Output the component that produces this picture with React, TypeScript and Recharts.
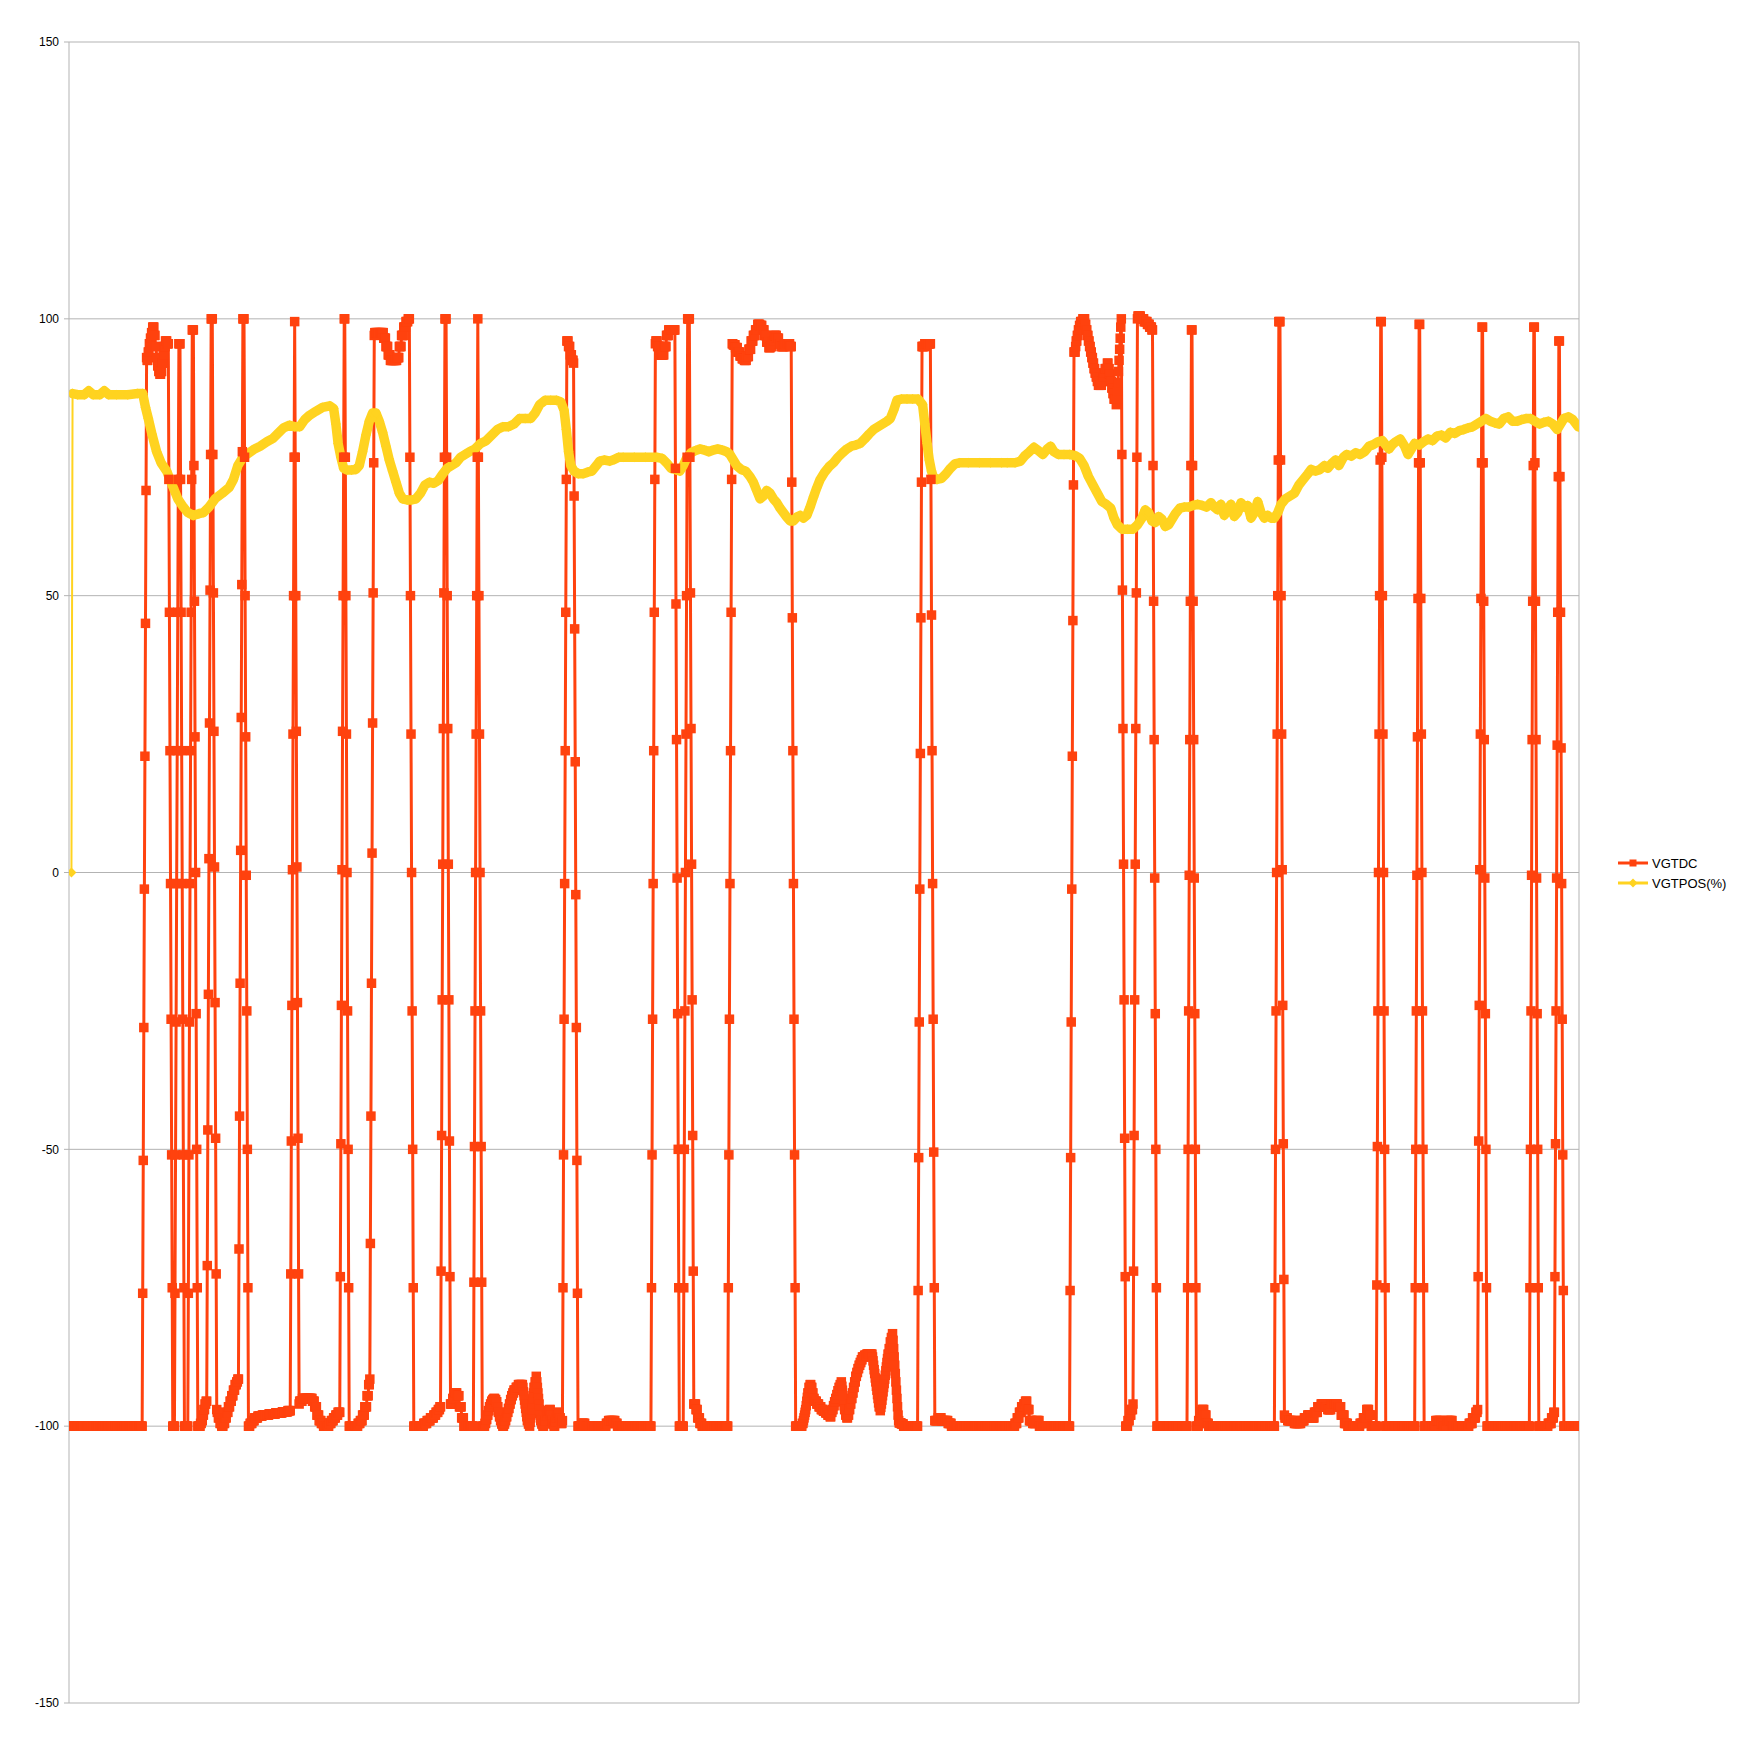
import React from "react";
import { LineChart, Line, XAxis, YAxis, CartesianGrid, ReferenceLine } from "recharts";

const RED = "#ff420e";
const YELLOW = "#ffd320";
const GRID = "#b3b3b3";
const FONT = "'Liberation Sans', Arial, sans-serif";

const SERIES_NAMES = ["VGTDC", "VGTPOS(%)"];
const Y_TICKS = [-150, -100, -50, 0, 50, 100, 150];

// Sample position is given as horizontal picture position; 2 samples per unit.
type Entry = [number, number | number[]];

// VGTDC: [position, value held from there] or [position, consecutive sample values]
const VGTDC_ENTRIES: Entry[] = [
  [64.5, -100],
  [128.5, [-76, -52, -28, -3, 21, 45, 69, 93]],
  [132.5, 92.5], [133.5, 94], [134.5, 95.5], [135.5, 96.5], [136.5, 97.5], [137.5, 98.5], [139, 97], [140, 95], [141, 93], [142, 91.5], [143, 90.5], [144, 90], [145, 90.5], [146, 92], [147, 93.5], [148, 95], [149, 96], [150.5, 95.5],
  [152, [71, 47, 22, -2, -26.5, -51, -75, -100]],
  [157.5, [-76, -51, -27, -2, 22, 47, 71, 95.5]],
  [162.5, [71, 47, 22, -2, -26.5, -51, -75, -100]],
  [169.5, [-76, -51, -27, -2, 22, 47, 71, 98]],
  [174.5, [73.5, 49, 24.5, 0, -25.5, -50, -75, -100]],
  [178.5, -100], [180.5, -99.5], [181.5, -99], [182.5, -98], [183.5, -97], [184.5, -96], [185.5, -95.5],
  [186.5, [-71, -46.5, -22, 2.5, 27, 51, 75.5, 100]],
  [190.5, 100],
  [191.5, [75.5, 50.5, 25.5, 1, -23.5, -48, -72.5, -97]],
  [195.5, -97.5], [196.5, -98.5], [198, -99.5], [199.5, -100], [201, -99.5], [202.5, -98.5], [204, -97.5], [205.5, -96.5], [207, -95.5], [208.5, -94.5], [210, -93.5], [211.5, -92.5], [213, -92], [214, -91.5],
  [215, [-68, -44, -20, 4, 28, 52, 76, 100]],
  [219, 100],
  [220, [75, 50, 24.5, -0.5, -25, -50, -75, -100]],
  [223.5, -100], [225, -99.5], [227, -99], [229, -98.5], [232, -98.2], [236, -98], [242, -97.8], [248, -97.6], [254, -97.4], [259, -97.2],
  [261.5, [-72.5, -48.5, -24, 0.5, 25, 50, 75, 99.5]],
  [265.5, [75, 50, 25.5, 1, -23.5, -48, -72.5, -96]],
  [269.5, -95.5], [272, -95], [275, -95], [278, -95], [281, -95.5], [283, -96.5], [285, -98], [287, -99], [289, -99.5], [291, -100], [294, -100], [296, -99.5], [298, -99], [300, -98.5], [302, -98], [304, -97.5],
  [306, [-73, -49, -24, 0.5, 25.5, 50, 75, 100]],
  [310, 100],
  [310.5, [75, 50, 25, 0, -25, -50, -75, -100]],
  [314.5, -100], [320, -100], [322, -99.5], [324, -99], [326, -98], [328, -96.5], [330, -94.5], [331.5, -92.5], [332.5, -91.5],
  [333, [-67, -44, -20, 3.5, 27, 50.5, 74, 97]],
  [337, 97.5], [340, 97.5], [343, 97.5], [345, 96.5], [347, 95], [349, 93.5], [351, 92.5], [354, 92.5], [357, 93], [359, 95], [361, 97], [363, 98.5], [365, 99.5], [367, 100],
  [368.5, [75, 50, 25, 0, -25, -50, -75, -100]],
  [372.5, -100], [378, -100], [381, -99.5], [384, -99], [387, -98.5], [390, -98], [392, -97.5], [394, -97], [395.5, -96.5],
  [396.5, [-72, -47.5, -23, 1.5, 26, 50.5, 75, 100]],
  [400.5, 100],
  [401.5, [75, 50, 26, 1.5, -23, -48.5, -73, -96]],
  [405.5, -96], [407, -95], [409, -94], [411, -94.5], [413, -96.5], [415, -98.5], [417, -100], [424, -100],
  [426, [-74, -49.5, -25, 0, 25, 50, 75, 100]],
  [430, [75, 50, 25, 0, -25, -49.5, -74, -100]],
  [434, -100], [436, -99.5], [437, -98.8], [438, -98], [439, -97.2], [440, -96.5], [441, -96], [442, -95.5], [443, -95.2], [444, -95], [445, -95.2], [446, -95.6], [447, -96.5], [448, -97.5], [449, -98.3], [450, -99], [451, -99.6], [452, -100], [453, -99.6], [454, -99], [455, -98.3], [456, -97.5], [457, -96.8], [458, -96], [459, -95.2], [460, -94.5], [461, -94], [462, -93.5], [464, -93], [466, -92.5], [468, -92.5], [470, -93], [470.5, -93.8], [471, -94.5], [471.5, -95.3], [472, -96], [472.5, -96.8], [473, -97.5], [473.5, -98.3], [474, -99], [475, -99.6], [476, -100], [476.5, -99.3], [477, -98.5], [477.5, -97.7], [478, -97], [478.5, -96], [479, -95], [479.5, -94], [480, -93], [481, -92], [482, -91], [482.5, -92], [483, -93], [483.5, -94], [484, -95], [484.5, -96], [485, -97], [485.5, -98], [486, -99], [487, -99.6], [488, -100], [489, -99.5], [490, -99], [491, -98.2], [492, -97.5], [493, -97.2], [494, -97], [495, -98], [496, -99], [497, -99.6], [498, -100], [499, -99.2], [500, -98.5], [501, -98], [502, -97.5], [503, -98.5], [504, -99.5], [505.5, -99],
  [506, [-75, -51, -26.5, -2, 22, 47, 71, 96]],
  [510, 96], [511, 95], [512.5, 93.5], [514, 92.5], [515.5, 92],
  [516, [68, 44, 20, -4, -28, -52, -76, -100]],
  [520, -100], [523, -99.5], [526, -100], [545, -99.5], [547, -99], [551, -99], [553, -99.5], [555, -100],
  [585.5, [-75, -51, -26.5, -2, 22, 47, 71, 95.5]],
  [589.5, 96], [591, 95], [593, 93.5], [595, 93.5], [597, 95], [599, 97], [601, 98], [606.5, 98],
  [607, [73, 48.5, 24, -1, -25.5, -50, -75, -100]],
  [611, -100],
  [614.5, [-75, -50, -25, 0, 25, 50, 75, 100]],
  [618.5, 100],
  [620, [75, 50.5, 26, 1.5, -23, -47.5, -72, -96]],
  [624, -96], [625.5, -97], [627, -98.5], [629, -99.5], [631, -100],
  [654.5, [-75, -51, -26.5, -2, 22, 47, 71, 95.5]],
  [659, 95.3], [661, 94.8], [663, 94], [665, 93.3], [667, 92.8], [669, 92.5], [671, 93.2], [673, 94.5], [675, 96], [677, 97], [679, 98], [681, 99], [683, 98.8], [685, 98], [687, 97], [689, 95.8], [691, 94.8], [692.5, 95], [694, 96], [696, 97], [698, 96.5], [700, 95.5], [702, 95], [705, 95.5], [708, 95.5], [710, 95],
  [711.5, [70.5, 46, 22, -2, -26.5, -51, -75, -100]],
  [715.5, -100], [721, -99.5], [722, -99], [722.5, -98.5], [723, -98], [723.5, -97.5], [724, -97], [724.5, -96.3], [725, -95.5], [725.5, -94.8], [726, -94], [727, -93], [728, -92.5], [729, -93], [730, -94], [731, -95], [732, -95.5], [734, -96], [736, -96.5], [738, -97], [740, -97.3], [742, -97.6], [744, -98], [746, -98.3], [747, -97.5], [748, -97], [749, -96.3], [750, -95.6], [751, -95], [752, -94.3], [753, -93.6], [754, -93], [755, -92.5], [756, -92], [756.5, -92.8], [757, -93.5], [757.5, -94.5], [758, -95.5], [758.5, -96.3], [759, -97], [760, -98], [761, -98.5], [762, -98], [763, -97], [764, -96], [765, -95], [766, -94], [767, -93], [768, -92], [769, -91], [770, -90.3], [771, -89.6], [772, -89], [773, -88.5], [774, -88], [775, -87.5], [777, -87.2], [779, -87], [783, -87], [784, -87.5], [784.5, -88.2], [785, -89], [785.5, -89.8], [786, -90.5], [786.5, -91.3], [787, -92], [787.5, -92.8], [788, -93.5], [788.5, -94.3], [789, -95], [789.5, -95.8], [790, -96.5], [791, -97.2], [791.5, -96.6], [792, -96], [792.5, -95.3], [793, -94.5], [793.5, -93.8], [794, -93], [794.5, -92.3], [795, -91.5], [795.5, -90.8], [796, -90], [796.5, -89.3], [797, -88.5], [797.5, -87.8], [798, -87], [799, -86], [800, -84.8], [801, -84], [802, -83.3],
  [802.5, [-84.5, -86, -87.5, -89, -90.5, -92, -93.5, -95, -96.5, -98, -99]],
  [808, -99.4], [810, -99.6], [812, -100],
  [825, [-75.5, -51.5, -27, -3, 21.5, 46, 70.5, 95]],
  [829, 95], [831, 95.5], [835, 95.5],
  [836.5, [71, 46.5, 22, -2, -26.5, -50.5, -75, -99]],
  [840.5, -99], [843, -98.5], [846, -99], [849, -99], [852, -99.5], [855, -100], [910, -100], [912, -99.5], [914, -98.5], [916, -97.5], [918, -96.5], [920, -96], [921.5, -95.5], [923, -97], [925, -99], [928, -99.5], [931, -99], [934, -100],
  [961.5, [-75.5, -51.5, -27, -3, 21, 45.5, 70, 94]],
  [965.5, 94], [966.5, 95], [967, 96], [968, 97], [969, 98], [970, 98.8], [971, 99.5], [973, 100], [975, 99], [976, 98], [977, 97], [978, 96], [979, 95], [980, 94], [981, 93], [982, 92], [983, 91], [984, 90.2], [985, 89.5], [986, 88.7], [987, 88], [989, 88], [990, 88.7], [991, 89.5], [992, 90.2], [993, 91], [995, 92], [996, 91], [997, 90], [998, 88.7], [999, 87.5], [1000, 86.5], [1001, 85.5], [1003, 84.5],
  [1003.5, [85.5, 87, 88.5, 90.5, 92.5, 94.5, 96.5, 98.5, 100]],
  [1008, [75.5, 51, 26, 1.5, -23, -48, -73, -100]],
  [1012, -100], [1013.5, -99], [1015, -98], [1016.5, -97], [1018, -96],
  [1018.5, [-72, -47.5, -23, 1.5, 26, 50.5, 75, 100]],
  [1022.5, 100.5], [1025, 100], [1028, 99.5], [1031, 99], [1033, 98.5], [1035, 98],
  [1036, [73.5, 49, 24, -1, -25.5, -50, -75, -100]],
  [1040, -100],
  [1067, [-75, -50, -25, -0.5, 24, 49, 73.5, 98]],
  [1071, 98],
  [1071.5, [73.5, 49, 24, -1, -25.5, -50, -75, -100]],
  [1075.5, -100], [1077, -99], [1078.5, -97.5], [1080, -97], [1082, -98], [1084, -99.5], [1086, -100],
  [1145.5, [-75, -50, -25, 0, 25, 50, 74.5, 99.5]],
  [1149.5, 99.5],
  [1150.5, [74.5, 50, 25, 0.5, -24, -49, -73.5, -98]],
  [1154.5, -98.5], [1157, -99], [1160, -99], [1163, -99.5], [1166, -99.5], [1169, -99], [1172, -98.5], [1175, -98], [1178, -98.5], [1181, -97.5], [1184, -96.5], [1187, -96], [1190, -96.5], [1193, -97], [1196, -96], [1199, -96], [1202, -96.5], [1205, -98], [1208, -99.5], [1211, -100], [1218, -100], [1222, -99.5], [1225, -98.5], [1228, -97], [1230, -98], [1232, -100],
  [1237, [-74.5, -49.5, -25, 0, 25, 50, 74.5, 99.5]],
  [1241, 99.5],
  [1241.5, [75, 50, 25, 0, -25, -50, -75, -100]],
  [1245.5, -100],
  [1271.5, [-75, -50, -25, -0.5, 24.5, 49.5, 74, 99]],
  [1275.5, 99],
  [1276, [74, 49.5, 25, 0, -25, -50, -75, -100]],
  [1280, -100], [1288, -100], [1290, -99], [1293, -99], [1295, -99.5], [1297, -100], [1300, -99], [1303, -99], [1305, -100], [1315, -100], [1320, -99.5], [1323, -98.5], [1326, -97.5], [1327.5, -97],
  [1328, [-73, -48.5, -24, 0.5, 25, 49.5, 74, 98.5]],
  [1332, 98.5],
  [1332.5, [74, 49, 24, -1, -25.5, -50, -75, -100]],
  [1336.5, -100],
  [1374.5, [-75, -50, -25, -0.5, 24, 49, 73.5, 98.5]],
  [1378.5, 98.5],
  [1379, [74, 49, 24, -1, -25.5, -50, -75, -100]],
  [1383, -100], [1388, -100], [1391, -99.5], [1394, -98.5], [1396, -97.5],
  [1397, [-73, -49, -25, -1, 23, 47, 71.5, 96]],
  [1401, 96],
  [1401.5, [71.5, 47, 22.5, -2, -26.5, -51, -75.5, -100]],
  [1405.5, -100],
];

// VGTPOS(%): [position, value] read points
const VGTPOS_POINTS: [number, number][] = [
  [64.5, 0], [65.5, 86.5], [70, 86.3], [76, 86.3], [80, 87], [84, 86.3], [90, 86.3], [94, 87], [98, 86.3], [105, 86.3], [115, 86.3], [124, 86.5], [128.5, 86.5],
  [131, 84], [133.5, 82], [137, 79], [141, 76], [145, 74], [150, 72.5], [156, 69.5], [160, 67.5], [165, 66], [169, 65], [174, 64.5], [179, 64.8], [183, 65], [188, 66], [194, 67.6], [200, 68.5], [206, 69.5], [210, 71], [214, 73.5], [218.5, 75], [224, 75.8], [229, 76.5], [234, 77], [240, 77.8], [245.5, 78.4], [250, 79.3], [255, 80.3], [260.5, 80.8], [265, 80.5], [269.5, 80.5], [274, 81.8], [278.5, 82.6], [284, 83.3], [290, 84], [296.5, 84.3], [300, 83.8],
  [302, 81], [304, 77.5], [306.5, 75], [309, 73], [312, 72.7], [316, 72.7], [320, 72.8], [323, 73.5], [326, 76], [329, 79], [332, 81.5], [335, 83], [338, 83], [341, 81.5], [344, 79.5], [347, 77], [350, 74.5], [353, 72.5], [356, 70.5], [359, 68.5], [362, 67.5], [366, 67.3], [370, 67.3], [374, 67.5], [378, 68.5], [382, 70], [386, 70.5], [390, 70.3], [394, 70.8], [398, 72], [402, 73], [406, 73.5], [410, 74], [414, 75], [418, 75.5], [422, 76], [427, 76.5], [432, 77.5], [437, 78], [442, 79], [447, 80], [452, 80.5], [457, 80.5], [462, 81], [467, 82], [472, 82], [477, 82], [481, 83], [485, 84.5], [490, 85.3], [495, 85.3], [500, 85.3], [504, 85],
  [507, 83.5], [509, 80], [511, 76], [513, 73.5], [516, 72.5], [520, 72], [524, 72], [528, 72.3], [532, 72.5], [536, 73.5], [539, 74.3], [543, 74.5], [548, 74.3], [552, 74.6], [556, 75], [560, 75], [570, 75], [580, 75], [590, 75], [595, 74.8],
  [599, 74], [603, 73], [607, 72.8], [611, 72.5], [614, 73.5], [617, 74.8], [621, 75.8], [625, 76.2], [629, 76.5], [633, 76.3], [637, 76], [641, 76.3], [645, 76.5], [649, 76.3], [653, 76], [656, 75.5], [659, 74.5], [662, 73.5], [666, 72.8], [670, 72.5], [674, 71.5], [677, 70.5], [680, 69], [683, 67.5], [686, 68], [689, 69], [692, 68.5], [695, 67.5], [698, 66.8], [701, 65.8], [704, 65], [707, 64.2], [710, 63.5], [713, 63.5], [716, 64.2], [719, 64.5], [722, 64], [725, 64.5], [728, 66], [731, 67.8], [734, 69.5], [737, 71], [741, 72.3], [745, 73.3], [749, 74], [753, 75], [757, 75.8], [761, 76.5], [765, 77], [769, 77.2], [773, 77.5], [777, 78.3], [781, 79.2], [785, 80], [789, 80.5], [793, 81], [797, 81.5], [800, 82], [803, 83.5], [806, 85.3], [810, 85.5], [815, 85.5], [820, 85.5], [825, 85.5], [829, 84.5],
  [831, 81], [833, 77.5], [835, 74.5], [837, 72.5], [839, 71.2], [842, 71], [846, 71.2], [850, 72], [854, 73], [858, 73.8], [862, 74], [870, 74], [880, 74], [890, 74], [900, 74], [905, 74], [912, 74], [917, 74.3], [921, 75.3], [925, 76], [929, 76.8], [933, 76.2], [937, 75.5], [941, 76.5], [944, 77], [947, 76], [951, 75.5], [956, 75.5], [961, 75.5], [966, 75.3], [970, 74.8],
  [974, 73.5], [978, 71.5], [982, 70], [986, 68.5], [990, 67], [994, 66.5], [998, 65.8], [1001, 64], [1004, 62.8], [1008, 62], [1013, 62], [1018, 62], [1022, 62.8], [1026, 64], [1029, 65.5], [1032, 65], [1035, 63.5], [1038, 63.2], [1041, 64.3], [1044, 63.8], [1047, 62.5], [1050, 62.8], [1053, 63.8], [1056, 64.8], [1060, 65.8], [1064, 66], [1068, 66], [1072, 66.3], [1076, 66.5], [1080, 66.3], [1084, 66], [1088, 66.8], [1091, 66], [1094, 65.5], [1097, 66.5], [1100, 64.5], [1103, 65.5], [1106, 66.5], [1109, 64.3], [1112, 65], [1115, 66.8], [1118, 66], [1121, 66.3], [1124, 64], [1127, 65], [1130, 67], [1133, 65], [1136, 64], [1139, 64.5], [1142, 64], [1145, 64], [1148, 65], [1151, 66.5], [1155, 67.5], [1159, 68], [1163, 68.5], [1167, 70], [1171, 71], [1175, 72], [1178, 72.8], [1182, 72.5], [1186, 72.8], [1190, 73.5], [1193, 73], [1197, 74], [1200, 74.5], [1203, 73.5], [1207, 75], [1210, 75.5], [1214, 75.2], [1218, 75.8], [1222, 75.5], [1226, 76], [1230, 77], [1234, 77.3], [1238, 77.8], [1242, 78], [1245, 77.2], [1248, 76.5], [1251, 77.3], [1254, 77.8], [1258, 78.3], [1262, 77], [1265, 75.5], [1268, 76.5], [1271, 77.5], [1275, 77.2], [1279, 77.8], [1283, 78.3], [1287, 78], [1291, 78.8], [1295, 79], [1299, 78.5], [1303, 79.5], [1307, 79.3], [1311, 79.8], [1315, 80], [1319, 80.3], [1323, 80.5], [1327, 81], [1331, 81.5], [1335, 82], [1339, 81.5], [1343, 81.2], [1347, 81], [1351, 82], [1355, 82.3], [1359, 81.5], [1363, 81.5], [1367, 81.8], [1371, 82], [1375, 82], [1379, 81.5], [1383, 81], [1387, 81.3], [1391, 81.5], [1395, 81], [1399, 80], [1402, 81], [1405, 82], [1409, 82.3], [1413, 81.8], [1418, 80.5],
];

const FIRST_POS = 64.5;
const LAST_POS = 1418;
const toIndex = (p: number) => Math.round((p - FIRST_POS) * 2);
const N = toIndex(LAST_POS) + 1;
const X_DOMAIN = [(62.3 - FIRST_POS) * 2, (1418.6 - FIRST_POS) * 2];

function buildHeld(entries: Entry[]) {
  const pts: [number, number][] = [];
  entries.forEach(([p, val]) => {
    const s = toIndex(p);
    if (Array.isArray(val)) val.forEach((v, k) => pts.push([s + k, v]));
    else pts.push([s, val]);
  });
  pts.sort((a, b) => a[0] - b[0]);
  const out: { i: number; v: number }[] = [];
  let p = 0;
  let cur = pts[0][1];
  for (let i = 0; i < N; i++) {
    while (p < pts.length && pts[p][0] <= i) {
      cur = pts[p][1];
      p++;
    }
    out.push({ i, v: cur });
  }
  return out;
}

const vgtdcData = buildHeld(VGTDC_ENTRIES);
const vgtposData = VGTPOS_POINTS.map(([p, v]) => ({ i: toIndex(p), v }));
const vgtposBand = vgtposData.slice(1);

const redSquare = (props: any) => {
  const { cx, cy, index } = props;
  if (cx == null || cy == null) return <g key={`rs${index}`} />;
  return <rect key={`rs${index}`} x={cx - 4.75} y={cy - 4.75} width={9.5} height={9.5} fill={RED} />;
};

const yellowDiamond = (props: any) => {
  const { cx, cy, index } = props;
  if (cx == null || cy == null) return <g key={`yd${index}`} />;
  const r = 5;
  return (
    <polygon
      key={`yd${index}`}
      points={`${cx},${cy - r} ${cx + r},${cy} ${cx},${cy + r} ${cx - r},${cy}`}
      fill={YELLOW}
    />
  );
};

const W = 1723;
const H = 1730;

export default function App() {
  return (
    <div style={{ position: "relative", width: W, height: H, background: "#fff" }}>
      <LineChart width={W} height={H} margin={{ top: 34, right: 152, bottom: 35, left: 0 }}>
        <CartesianGrid vertical={false} stroke={GRID} strokeWidth={1} />
        <XAxis type="number" dataKey="i" domain={X_DOMAIN} allowDataOverflow hide />
        <YAxis
          type="number"
          domain={[-150, 150]}
          ticks={Y_TICKS}
          width={61}
          axisLine={{ stroke: GRID }}
          tickLine={{ stroke: GRID }}
          tickSize={5}
          tickMargin={5}
          tick={{ fontSize: 12, fill: "#000", fontFamily: FONT }}
          interval={0}
        />
        <ReferenceLine x={X_DOMAIN[1]} stroke={GRID} strokeWidth={1} ifOverflow="visible" />
        <Line
          data={vgtdcData}
          dataKey="v"
          name={SERIES_NAMES[0]}
          stroke={RED}
          strokeWidth={3}
          dot={false}
          activeDot={false}
          isAnimationActive={false}
          type="linear"
        />
        <Line
          data={vgtposBand}
          dataKey="v"
          name="band"
          stroke={YELLOW}
          strokeWidth={9.5}
          strokeLinejoin="round"
          strokeLinecap="round"
          dot={false}
          activeDot={false}
          legendType="none"
          isAnimationActive={false}
          type="linear"
        />
        <Line
          data={vgtposData}
          dataKey="v"
          name={SERIES_NAMES[1]}
          stroke={YELLOW}
          strokeWidth={2}
          dot={yellowDiamond}
          activeDot={false}
          isAnimationActive={false}
          type="linear"
        />
        <Line
          data={vgtdcData}
          dataKey="v"
          name="markers"
          stroke="none"
          dot={redSquare}
          activeDot={false}
          legendType="none"
          isAnimationActive={false}
          type="linear"
        />
      </LineChart>
      <div style={{ position: "absolute", left: 1610, top: 845, fontFamily: FONT, fontSize: 13, color: "#000" }}>
        {[RED, YELLOW].map((c, k) => (
          <div key={k} style={{ display: "flex", alignItems: "center", height: 20 }}>
            <svg width={30} height={12}>
              <line x1={0} y1={6} x2={30} y2={6} stroke={c} strokeWidth={3} />
              {k === 0 ? (
                <rect x={11.5} y={2.5} width={7} height={7} fill={c} />
              ) : (
                <polygon points="15,1.5 19.5,6 15,10.5 10.5,6" fill={c} />
              )}
            </svg>
            <span style={{ marginLeft: 4 }}>{SERIES_NAMES[k]}</span>
          </div>
        ))}
      </div>
    </div>
  );
}
